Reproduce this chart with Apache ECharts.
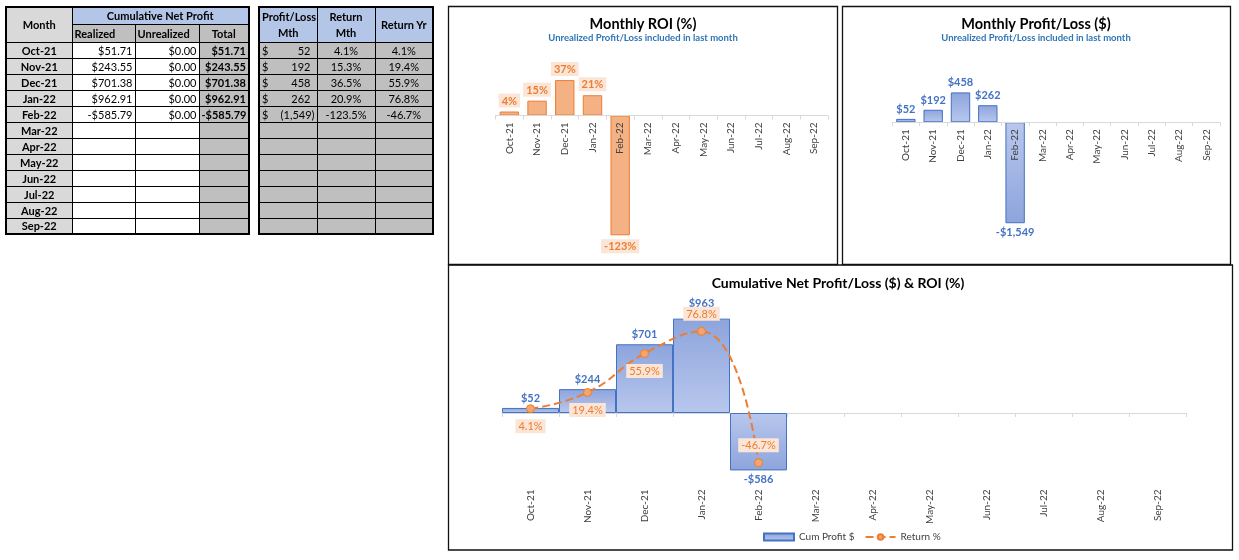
<!DOCTYPE html>
<html><head><meta charset="utf-8">
<script src="https://cdn.jsdelivr.net/npm/echarts@6/dist/echarts.min.js"></script>
<style>
html,body{margin:0;padding:0;background:#fff;width:1239px;height:560px;overflow:hidden;font-family:Lato,'Liberation Sans',sans-serif;}
#chart{position:absolute;left:0;top:0;width:1239px;height:560px;}
table.tb{position:absolute;top:6px;border-collapse:collapse;table-layout:fixed;font-size:11px;z-index:2;border:2px solid #000;color:#000;}
table.tb td{border:1px solid #000;padding:0 2px;white-space:nowrap;overflow:hidden;box-sizing:border-box;}
table.tb tr{height:16px;}
.hg{background:#d9d9d9;font-weight:bold;text-align:center;}
.hb{background:#b4c6e7;font-weight:bold;text-align:center;}
.hd{background:#bfbfbf;font-weight:bold;}
.mo{background:#d9d9d9;font-weight:bold;text-align:center;}
.wh{background:#fff;text-align:right;}
.gt{background:#bfbfbf;text-align:right;font-weight:bold;}
.gr{background:#bfbfbf;}
.gc{background:#bfbfbf;text-align:center;}
.acc{background:#bfbfbf;text-align:right;}
.acc span.d{float:left;}
</style>
</head><body>
<div id="chart"></div>
<table class="tb" id="t1" style="left:5px;width:243px;">
<colgroup><col style="width:66px"><col style="width:63px"><col style="width:64px"><col style="width:50px"></colgroup>
<tbody id="t1b"></tbody></table>
<table class="tb" id="t2" style="left:258px;width:174px;">
<colgroup><col style="width:58px"><col style="width:58px"><col style="width:58px"></colgroup>
<tbody id="t2b"></tbody></table>
<script>
const months = ['Oct-21','Nov-21','Dec-21','Jan-22','Feb-22','Mar-22','Apr-22','May-22','Jun-22','Jul-22','Aug-22','Sep-22'];
const realized = [51.71, 243.55, 701.38, 962.91, -585.79];
const unrealized = [0, 0, 0, 0, 0];
const cumTotal = [51.71, 243.55, 701.38, 962.91, -585.79];
const plMth = [51.71, 191.84, 457.83, 261.53, -1548.70];
const returnMth = [4.1, 15.3, 36.5, 20.9, -123.5];
const returnYr = [4.1, 19.4, 55.9, 76.8, -46.7];
const seriesNames = ['Cum Profit $', 'Return %'];

const FONT = 'Lato';
function money2(v){ const s='$'+Math.abs(v).toLocaleString('en-US',{minimumFractionDigits:2,maximumFractionDigits:2}); return v<0?'-'+s:s; }
function money0(v){ const s='$'+Math.round(Math.abs(v)).toLocaleString('en-US'); return v<0?'-'+s:s; }

// tables
let h1 = '<tr style="height:17px"><td class="hg" rowspan="2">Month</td><td class="hb" colspan="3">Cumulative Net Profit</td></tr>'+
 '<tr style="height:18px"><td class="hd">Realized</td><td class="hd">Unrealized</td><td class="hd" style="text-align:center">Total</td></tr>';
let h2 = '<tr style="height:17px"><td class="hb" rowspan="2" style="line-height:16px">Profit/Loss<br>Mth</td><td class="hb" rowspan="2" style="line-height:16px">Return<br>Mth</td><td class="hb" rowspan="2">Return Yr</td></tr><tr style="height:18px"></tr>';
months.forEach((m,i)=>{
  const has = i < realized.length;
  h1 += '<tr><td class="mo">'+m+'</td><td class="wh">'+(has?money2(realized[i]):'')+'</td><td class="wh">'+(has?money2(unrealized[i]):'')+'</td><td class="gt">'+(has?money2(cumTotal[i]):'')+'</td></tr>';
  if (has) {
    const r = Math.round(plMth[i]);
    const num = r<0 ? '('+Math.abs(r).toLocaleString('en-US')+')' : r.toLocaleString('en-US')+'<span style="display:inline-block;width:4px"></span>';
    h2 += '<tr><td class="acc"><span class="d">$</span>'+num+'</td><td class="gc">'+returnMth[i].toFixed(1)+'%</td><td class="gc">'+returnYr[i].toFixed(1)+'%</td></tr>';
  } else {
    h2 += '<tr><td class="gr"></td><td class="gr"></td><td class="gr"></td></tr>';
  }
});
document.getElementById('t1b').innerHTML = h1;
document.getElementById('t2b').innerHTML = h2;

// chart
const chart = echarts.init(document.getElementById('chart'));
function blueGrad(neg){
  const dark='#8da4dc', light='#b8c7ed';
  return new echarts.graphic.LinearGradient(0,0,0,1, neg?[{offset:0,color:light},{offset:1,color:dark}]:[{offset:0,color:dark},{offset:1,color:light}]);
}
// grid boxes (pixels) and value ranges
const G = [
  {left:495.5, right:411, top:67, bottom:318.4, min:-130, max:50},
  {left:892.2, right:19, top:70.1, bottom:326.9, min:-1700, max:800},
  {left:502, right:53, top:300.3, bottom:73.5, min:-750, max:1150}
];
function zeroOffset(g){ const h = 560 - g.top - g.bottom; return -h * (0 - g.min) / (g.max - g.min); }

const axisLbl = {rotate:90, fontSize:10, color:'#404040', fontFamily:FONT, interval:0};
const zeroLine = {show:true, onZero:false, lineStyle:{color:'#d9d9d9', width:1}};
const tick = {show:true, length:4, lineStyle:{color:'#d9d9d9'}};

const roiData = returnMth.map(v=>({value:v, label:{position:v<0?'bottom':'top'}}));
const plData = plMth.map(v=>({value:v, label:{position:v<0?'bottom':'top'}, itemStyle:{color:blueGrad(v<0)}}));
const cumLblDist = [4,4,4,10,4];
const cumData = cumTotal.map((v,i)=>({value:v, label:{position:v<0?'bottom':'top', distance:cumLblDist[i]}, itemStyle:{color:blueGrad(v<0)}}));
const linePos = ['bottom','bottom','bottom','top','top'];
const lineData = returnYr.map((v,i)=>({value:v, label:{position:linePos[i]}}));

const orangeLbl = {show:true, color:'#ed7d31', fontWeight:'bold', fontFamily:FONT, backgroundColor:'#fbe5d6', padding:[2,3,1,3]};
const blueLbl = {show:true, color:'#4472c4', fontWeight:'bold', fontFamily:FONT, fontSize:11};

function txt(x,y,t,size,color,weight){
  return {type:'text', x:x, y:y, silent:true, style:{text:t, fontSize:size, fontWeight:weight||'bold', fontFamily:FONT, fill:color, align:'center', verticalAlign:'middle', textAlign:'center', textVerticalAlign:'middle'}};
}
function box(x,y,w,h){
  return {type:'rect', silent:true, shape:{x:x,y:y,width:w,height:h}, style:{fill:'none', stroke:'#111', lineWidth:1.3}};
}

chart.setOption({
  animation:false,
  textStyle:{fontFamily:FONT},
  graphic:[
    box(448.5,6.5,389,258), box(842.5,6.5,388,258), box(448.5,265,784,285),
    txt(643,24,'Monthly ROI (%)',14.5,'#000'),
    txt(643,38,'Unrealized Profit/Loss included in last month',9.5,'#2e75b6'),
    txt(1036,24,'Monthly Profit/Loss ($)',14.5,'#000'),
    txt(1036,38,'Unrealized Profit/Loss included in last month',9.5,'#2e75b6'),
    txt(838,283,'Cumulative Net Profit/Loss ($) & ROI (%)',14,'#000')
  ],
  grid: G.map(g=>({left:g.left, right:g.right, top:g.top, bottom:g.bottom})),
  xAxis:[
    {type:'category', gridIndex:0, position:'bottom', offset:zeroOffset(G[0]), z:5, data:months, axisLine:zeroLine, axisTick:tick, axisLabel:Object.assign({margin:7},axisLbl), splitLine:{show:false}},
    {type:'category', gridIndex:1, position:'bottom', offset:zeroOffset(G[1]), z:5, data:months, axisLine:zeroLine, axisTick:tick, axisLabel:Object.assign({margin:7},axisLbl), splitLine:{show:false}},
    {type:'category', gridIndex:2, position:'bottom', offset:zeroOffset(G[2]), data:months, axisLine:zeroLine, axisTick:tick, axisLabel:{show:false}, splitLine:{show:false}},
    {type:'category', gridIndex:2, position:'bottom', data:months, axisLine:{show:false, onZero:false}, axisTick:{show:false}, axisLabel:Object.assign({margin:3},axisLbl), splitLine:{show:false}}
  ],
  yAxis:[
    {type:'value', gridIndex:0, min:G[0].min, max:G[0].max, show:false},
    {type:'value', gridIndex:1, min:G[1].min, max:G[1].max, show:false},
    {type:'value', gridIndex:2, min:G[2].min, max:G[2].max, show:false},
    {type:'value', gridIndex:2, min:-69, max:106, show:false}
  ],
  legend:{
    data:[{name:seriesNames[0], icon:'rect'}, {name:seriesNames[1]}], left:758, top:527, itemWidth:30, itemHeight:7, itemGap:10,
    textStyle:{fontSize:10, color:'#404040', fontFamily:FONT}
  },
  series:[
    {name:'ROI', type:'bar', xAxisIndex:0, yAxisIndex:0, barWidth:'70%', data:roiData,
     itemStyle:{color:'#f4b183', borderColor:'#ed7d31', borderWidth:1},
     label:Object.assign({fontSize:11, distance:4, formatter:p=>Math.round(p.value)+'%'}, orangeLbl)},
    {name:'PL', type:'bar', xAxisIndex:1, yAxisIndex:1, barWidth:'71%', data:plData,
     itemStyle:{color:blueGrad(false), borderColor:'#4472c4', borderWidth:1},
     label:Object.assign({distance:4, formatter:p=>money0(p.value)}, blueLbl)},
    {name:seriesNames[0], type:'bar', xAxisIndex:2, yAxisIndex:2, barWidth:'100%', data:cumData,
     itemStyle:{color:blueGrad(false), borderColor:'#4472c4', borderWidth:1},
     label:Object.assign({distance:4, formatter:p=>money0(p.value)}, blueLbl)},
    {name:seriesNames[1], type:'line', xAxisIndex:2, yAxisIndex:3, data:lineData, smooth:0.5,
     symbol:'circle', symbolSize:8,
     lineStyle:{color:'#ed7d31', width:2, type:'dashed'},
     itemStyle:{color:'#f4a46c', borderColor:'#ed7d31', borderWidth:1},
     label:Object.assign({fontSize:11, distance:6, formatter:p=>p.value.toFixed(1)+'%'}, orangeLbl, {fontWeight:'normal'})}
  ]
});
</script>
</body></html>
